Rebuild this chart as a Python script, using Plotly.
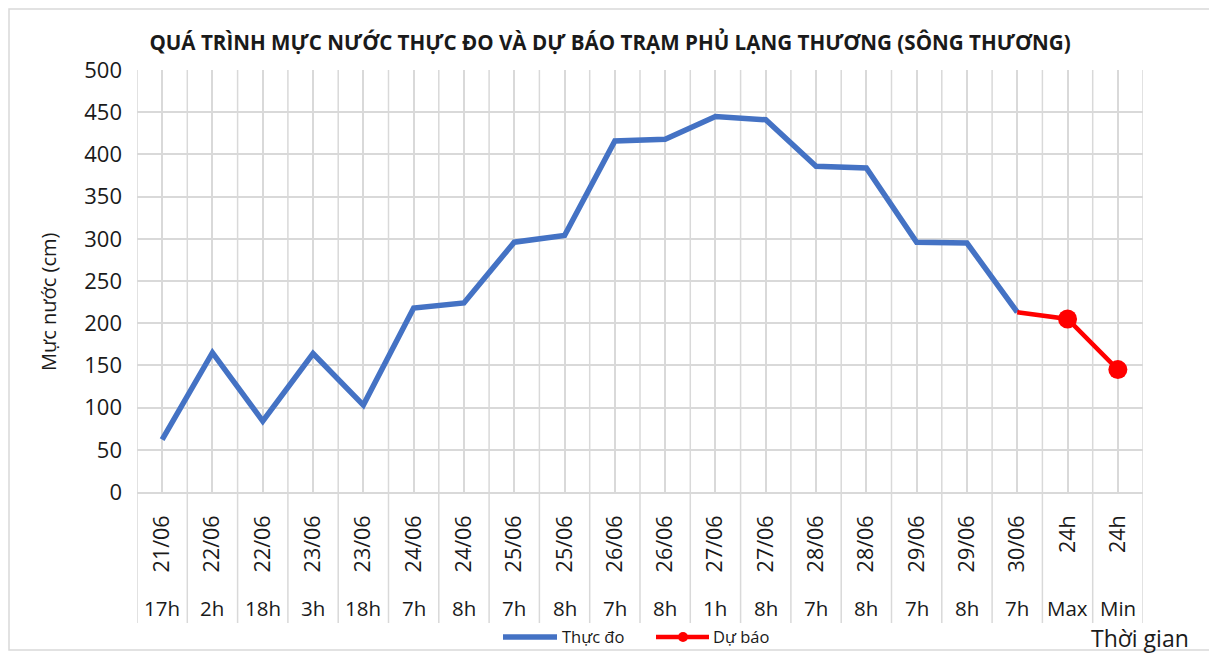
import plotly.graph_objects as go

dates = ["21/06", "22/06", "22/06", "23/06", "23/06", "24/06", "24/06", "25/06", "25/06", "26/06",
         "26/06", "27/06", "27/06", "28/06", "28/06", "29/06", "29/06", "30/06", "24h", "24h"]
hours = ["17h", "2h", "18h", "3h", "18h", "7h", "8h", "7h", "8h", "7h",
         "8h", "1h", "8h", "7h", "8h", "7h", "8h", "7h", "Max", "Min"]
observed = [62, 165, 84, 164, 103, 218, 224, 296, 304, 416,
            418, 445, 441, 386, 384, 296, 295, 213, None, None]
forecast = [None] * 17 + [213, 205, 145]

keys = [f"{d} {h}" for d, h in zip(dates, hours)]
FONT = "Open Sans"
GRID = "#d9d9d9"
BLACK = "#1a1a1a"
BLUE = "#4472C4"
RED = "#FF0000"

# page-pixel helpers (plot area: x 137..1143, y 70..492)
def px(x):
    return (x - 137) / 1006

def py(y):
    return (492 - y) / 422

fig = go.Figure()
fig.add_trace(go.Scatter(x=keys, y=observed, mode="lines", name="Thực đo",
                         line=dict(color=BLUE, width=5.5), connectgaps=False, showlegend=False))
fig.add_trace(go.Scatter(x=keys, y=forecast, mode="lines+markers", name="Dự báo",
                         line=dict(color=RED, width=4.5), showlegend=False,
                         marker=dict(color=RED, opacity=1, line=dict(width=0),
                                     size=[0 if (i < 18) else 19 for i in range(20)])))

shapes = []
for i in range(len(keys) + 1):
    shapes.append(dict(type="line", xref="x", yref="paper", x0=i - 0.5, x1=i - 0.5,
                       y0=py(623), y1=1, line=dict(color=GRID, width=1.5), layer="below"))
# chart frame
shapes.append(dict(type="rect", xref="paper", yref="paper", x0=px(9), x1=px(1211), y0=py(650), y1=py(9),
                   line=dict(color="#d9d9d9", width=1.5)))
# custom legend
shapes.append(dict(type="line", xref="paper", yref="paper", x0=px(503), x1=px(557), y0=py(637), y1=py(637),
                   line=dict(color=BLUE, width=5.5)))
shapes.append(dict(type="line", xref="paper", yref="paper", x0=px(656), x1=px(709), y0=py(637), y1=py(637),
                   line=dict(color=RED, width=4.5)))
shapes.append(dict(type="circle", xref="paper", yref="paper", x0=px(678), x1=px(688), y0=py(642), y1=py(632),
                   fillcolor=RED, line=dict(color=RED, width=0)))

annotations = []
for k, h in zip(keys, hours):
    annotations.append(dict(x=k, y=py(608), xref="x", yref="paper", text=h, showarrow=False,
                            font=dict(family=FONT, size=20.5, color=BLACK), xanchor="center", yanchor="middle"))
annotations.append(dict(x=px(1140), y=py(638), xref="paper", yref="paper",
                        text="Thời gian", showarrow=False,
                        font=dict(family=FONT, size=23, color=BLACK), xanchor="center", yanchor="middle"))
annotations.append(dict(x=px(48), y=py(302), xref="paper", yref="paper",
                        text="Mực nước (cm)", showarrow=False, textangle=-90,
                        font=dict(family=FONT, size=20, color=BLACK), xanchor="center", yanchor="middle"))
annotations.append(dict(x=px(560), y=py(636), xref="paper", yref="paper", text="Thực đo", showarrow=False,
                        font=dict(family=FONT, size=16.5, color=BLACK), xanchor="left", yanchor="middle"))
annotations.append(dict(x=px(711), y=py(636), xref="paper", yref="paper", text="Dự báo", showarrow=False,
                        font=dict(family=FONT, size=16.5, color=BLACK), xanchor="left", yanchor="middle"))

fig.update_layout(
    width=1209, height=647,
    margin=dict(l=129, r=74, t=62, b=163, autoexpand=False),
    paper_bgcolor="white", plot_bgcolor="white",
    title=dict(text="<b>QUÁ TRÌNH MỰC NƯỚC THỰC ĐO VÀ DỰ BÁO TRẠM PHỦ LẠNG THƯƠNG (SÔNG THƯƠNG)</b>",
               x=(610 - 8) / 1209, xanchor="center", y=1 - (43 - 8) / 647, yanchor="middle",
               font=dict(family=FONT, size=20.6, color=BLACK)),
    xaxis=dict(type="category", categoryorder="array", categoryarray=keys,
               tickvals=keys, ticktext=dates, tickangle=-90,
               tickfont=dict(family=FONT, size=21.5, color=BLACK),
               showgrid=True, gridcolor=GRID, gridwidth=1.5,
               showline=True, linecolor=GRID, linewidth=1.5, automargin=False,
               ticks="", ticklabelstandoff=13, range=[-0.5, 19.5], fixedrange=True),
    yaxis=dict(range=[0, 500], dtick=50, showgrid=True, gridcolor=GRID, gridwidth=1.5,
               zeroline=False, showline=False, ticks="", ticklabelstandoff=14, automargin=False,
               tickfont=dict(family=FONT, size=22, color=BLACK), fixedrange=True),
    shapes=shapes, annotations=annotations,
    showlegend=False,
)

fig.write_html("out.html")
